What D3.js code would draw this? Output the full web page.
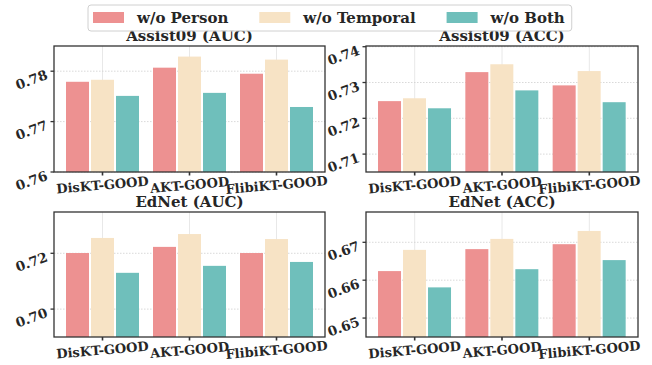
<!DOCTYPE html>
<html>
<head>
<meta charset="utf-8">
<script src="https://cdn.jsdelivr.net/npm/d3@7"></script>
<style>
  body { margin: 0; background: #fff; }
  svg { display: block; }
  text { font-family: "DejaVu Serif", serif; font-weight: bold; fill: #262626; }
</style>
</head>
<body>
<svg id="chart"></svg>
<script>
const models = ["DisKT-GOOD", "AKT-GOOD", "FlibiKT-GOOD"];
const variants = ["w/o Person", "w/o Temporal", "w/o Both"];
const colors = ["#ed9191", "#f7e3c5", "#6fbfbb"];

// values per variant (rows) for each model (cols)
const assist09Auc = [
  [0.7779, 0.7807, 0.7795],
  [0.7783, 0.7829, 0.7823],
  [0.7751, 0.7757, 0.7729]
];
const assist09Acc = [
  [0.7248, 0.7329, 0.7292],
  [0.7256, 0.7351, 0.7332],
  [0.7228, 0.7278, 0.7245]
];
const ednetAuc = [
  [0.7201, 0.7223, 0.7201],
  [0.7255, 0.7269, 0.7251],
  [0.7130, 0.7155, 0.7169]
];
const ednetAcc = [
  [0.6624, 0.6682, 0.6695],
  [0.6680, 0.6709, 0.6730],
  [0.6581, 0.6629, 0.6653]
];

const titles = ["Assist09 (AUC)", "Assist09 (ACC)", "EdNet (AUC)", "EdNet (ACC)"];
const yDomains = [[0.76, 0.785], [0.705, 0.7402], [0.69, 0.7348], [0.645, 0.678]];
const yTicks = [[0.76, 0.77, 0.78], [0.71, 0.72, 0.73, 0.74], [0.70, 0.72], [0.65, 0.66, 0.67]];
const panelData = [assist09Auc, assist09Acc, ednetAuc, ednetAcc];

const W = 652, H = 365;
const layout = [
  { x: 54, y: 46, w: 271, h: 126 },
  { x: 366, y: 46, w: 272, h: 126 },
  { x: 54, y: 212, w: 271, h: 125 },
  { x: 366, y: 212, w: 272, h: 125 }
];

const svg = d3.select("#chart").attr("width", W).attr("height", H);
const fmt = d3.format(".2f");

panelData.forEach((data, i) => {
  const box = layout[i];
  const g = svg.append("g").attr("transform", `translate(${box.x},${box.y})`);

  const x0 = d3.scaleBand().domain(models).range([0, box.w]).paddingInner(0).paddingOuter(0.0575);
  const x1 = d3.scaleBand().domain(variants).range([7, 80]).paddingInner(0.08).paddingOuter(0);
  const y = d3.scaleLinear().domain(yDomains[i]).range([box.h, 0]);

  // grid
  g.append("g").selectAll("line").data(models).join("line")
    .attr("x1", d => x0(d) + x0.bandwidth() / 2).attr("x2", d => x0(d) + x0.bandwidth() / 2)
    .attr("y1", 0).attr("y2", box.h)
    .attr("stroke", "#e8e8e8").attr("stroke-width", 1);
  g.append("g").selectAll("line").data(yTicks[i]).join("line")
    .attr("x1", 0).attr("x2", box.w)
    .attr("y1", d => y(d)).attr("y2", d => y(d))
    .attr("stroke", "#cfcfcf").attr("stroke-width", 0.8).attr("stroke-dasharray", "1.5,1.5");

  // bars
  const clipId = "clip" + i;
  g.append("clipPath").attr("id", clipId).append("rect").attr("width", box.w).attr("height", box.h);
  const bars = g.append("g").attr("clip-path", `url(#${clipId})`);
  variants.forEach((v, vi) => {
    bars.append("g").selectAll("rect").data(models).join("rect")
      .attr("x", (m) => x0(m) + x1(v))
      .attr("width", x1.bandwidth())
      .attr("y", (m, mi) => y(data[vi][mi]))
      .attr("height", (m, mi) => box.h - y(data[vi][mi]))
      .attr("fill", colors[vi]);
  });

  // frame
  g.append("rect").attr("width", box.w).attr("height", box.h)
    .attr("fill", "none").attr("stroke", "#333").attr("stroke-width", 1.3);

  // y ticks
  const yt = g.append("g").selectAll("g").data(yTicks[i]).join("g")
    .attr("transform", d => `translate(0,${y(d)})`);
  yt.append("line").attr("x1", -3.5).attr("x2", 0).attr("stroke", "#333").attr("stroke-width", 1.3);
  yt.append("text")
    .attr("transform", "translate(-7,3) rotate(-20)")
    .attr("text-anchor", "end").attr("dy", "0.35em")
    .attr("font-size", 13.5)
    .text(d => fmt(d));

  // x ticks
  const xt = g.append("g").selectAll("g").data(models).join("g")
    .attr("transform", d => `translate(${x0(d) + x0.bandwidth() / 2},${box.h})`);
  xt.append("line").attr("y1", 0).attr("y2", 3.5).attr("stroke", "#333").attr("stroke-width", 1.6);
  xt.append("text")
    .attr("transform", "translate(0,13) rotate(-5)")
    .attr("text-anchor", "middle").attr("dy", "0.35em")
    .attr("font-size", 13)
    .text(d => d);

  // title
  g.append("text").attr("x", box.w / 2).attr("y", -5)
    .attr("text-anchor", "middle").attr("font-size", 15)
    .text(titles[i]);
});

// legend
const legend = svg.append("g");
const legendBox = legend.append("rect")
  .attr("x", 88).attr("y", 5).attr("height", 26).attr("rx", 3)
  .attr("fill", "#fff").attr("fill-opacity", 0.85)
  .attr("stroke", "#d0d0d0").attr("stroke-width", 1);
let lx = 93;
variants.forEach((v, vi) => {
  legend.append("rect").attr("x", lx).attr("y", 12).attr("width", 31).attr("height", 11).attr("fill", colors[vi]);
  const t = legend.append("text").attr("x", lx + 44).attr("y", 22.5).attr("font-size", 15).text(v);
  lx = lx + 44 + t.node().getComputedTextLength() + 31;
});
legendBox.attr("width", lx - 31 + 7 - 88);
</script>
</body>
</html>
